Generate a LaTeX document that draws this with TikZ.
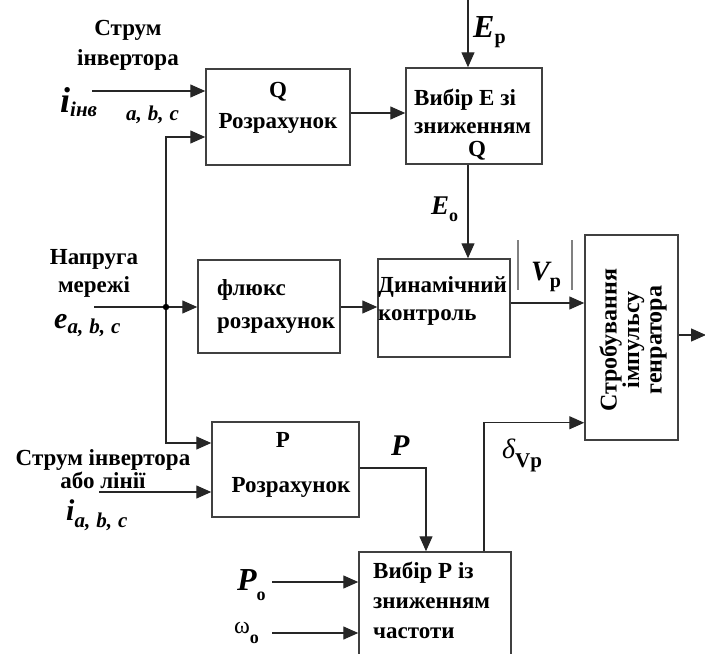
\documentclass[tikz,border=0pt]{standalone}
\usepackage{fontspec}
\setmainfont{Liberation Serif}
\usetikzlibrary{arrows.meta}
\newcommand{\abcsep}{,\hspace{6pt}}
\begin{document}
\begin{tikzpicture}[x=1pt,y=-1pt,
  box/.style={draw=black!75, line width=1.5pt, rectangle, inner sep=0pt},
  conn/.style={line width=1.4pt, draw=black!85, -{Triangle[length=15pt,width=13pt]}},
  plain/.style={line width=1.4pt, draw=black!85},
  bar/.style={line width=1.6pt, draw=black!50},
  txt/.style={inner sep=0pt, font=\fontsize{23}{#1}\selectfont\bfseries},
  lbl/.style={inner sep=0pt, anchor=base west},
  bi/.style={font=\fontsize{#1}{#1}\selectfont\bfseries\itshape}
]
\useasboundingbox (0,0) rectangle (705,654);
\clip (0,0) rectangle (705,654);

% boxes
\node[box, minimum width=144pt, minimum height=96pt] (Q) at (278,117) {};
\node[box, minimum width=136pt, minimum height=96pt] (E) at (474,116) {};
\node[box, minimum width=142pt, minimum height=93pt] (F) at (269,306.5) {};
\node[box, minimum width=132pt, minimum height=98pt] (D) at (444,308) {};
\node[box, minimum width=93pt, minimum height=205pt] (S) at (631.5,337.5) {};
\node[box, minimum width=147pt, minimum height=95pt] (P) at (285.5,469.5) {};
\node[box, minimum width=152pt, minimum height=116pt] (VP) at (435,610) {};

% box texts (base anchor = last line baseline)
\node[txt=31, align=center, anchor=base] (Qt) at (278,128) {Q\\Розрахунок};
\node[txt=28, align=left, anchor=base west] (Et) at (414,133) {Вибір Е зі\\зниженням};
\node[txt=28, anchor=base] (EtQ) at (477,156) {Q};
\node[txt=33, align=left, anchor=base west] (Ft) at (217,328) {флюкс\\розрахунок};
\node[txt=28, align=left, anchor=base west] (Dt) at (378,320) {Динамічний\\контроль};
\node[inner sep=0pt, font=\fontsize{24}{22.5}\selectfont\bfseries, align=center, rotate=90] (St) at (633,340) {Стробування\\імпульсу\\генратора};
\node[txt=28, anchor=base] (Pt1) at (283,447) {P};
\node[txt=28, anchor=base] (Pt2) at (291,492) {Розрахунок};
\node[txt=30, align=left, anchor=base west] (VPt) at (373,638) {Вибір Р із\\зниженням\\частоти};

% outer texts
\node[txt=30, align=center, anchor=base] (l1) at (128,65) {Струм\\інвертора};
\node[txt=28, align=center, anchor=base] (l2) at (94,292) {Напруга\\мережі};
\node[txt=21, align=center, anchor=base] (l3) at (103,488) {Струм інвертора\\або лінії};

% math-like labels
\node[lbl, bi=36] (iinv) at (60,112) {i\raisebox{-4pt}{\fontsize{21}{21}\selectfont інв}};
\node[lbl, bi=21] (abc1) at (126,120) {a\abcsep b\abcsep c};
\node[lbl, bi=30] (eabc) at (54,328) {e\raisebox{-5pt}{\fontsize{21}{21}\selectfont a\abcsep b\abcsep c}};
\node[lbl, bi=30] (iabc) at (66,520) {i\raisebox{-7pt}{\fontsize{21}{21}\selectfont a\abcsep b\abcsep c}};
\node[lbl, bi=32] (Eplbl) at (473,37) {E\raisebox{-6pt}{\fontsize{20}{20}\selectfont\upshape p}};
\node[lbl, bi=27] (Eolbl) at (431,214) {E\raisebox{-7pt}{\fontsize{18}{18}\selectfont\upshape o}};
\node[lbl, bi=28] (Vplbl) at (531,280) {V\raisebox{-7pt}{\fontsize{20}{20}\selectfont\upshape p}};
\node[lbl, bi=30] (Plbl) at (391,455) {P};
\node[lbl, font=\fontsize{28}{28}\selectfont\itshape] (dlbl) at (502,458) {δ\raisebox{-9pt}{\fontsize{21}{21}\selectfont\bfseries\upshape Vp}};
\node[lbl, bi=32] (Polbl) at (237,590) {P\raisebox{-10pt}{\fontsize{18}{18}\selectfont\upshape o}};
\node[lbl, font=\fontsize{24}{24}\selectfont] (wlbl) at (234,633) {ω\raisebox{-10pt}{\fontsize{18}{18}\selectfont\bfseries o}};

% coordinates
\coordinate (iin) at (92,91);
\coordinate (ein) at (94,307);
\coordinate (jn) at (166,307);
\coordinate (iain) at (99,492);
\coordinate (Ept) at (468,0);
\coordinate (out) at (706,335);
\coordinate (Poin) at (272,582);
\coordinate (win) at (272,633);

% connectors
\draw[conn] (iin) -- (iin -| Q.west);
\draw[plain] (ein) -- (jn);
\draw[conn] (jn) -- (jn -| F.west);
\draw[conn] (jn) |- ([yshift=-20pt]Q.west);
\draw[conn] (jn) |- ([yshift=26.5pt]P.west);
\fill[black] (jn) circle (3.2pt);
\draw[conn] ([yshift=4pt]Q.east) -- ([yshift=3pt]E.west);
\draw[conn] (Ept) -- (Ept |- E.north);
\draw[conn] (Ept |- E.south) -- (Ept |- D.north);
\draw[conn] (F.east |- jn) -- (D.west |- jn);
\draw[conn] ([yshift=5pt]D.east) -- ([yshift=5pt]D.east -| S.west);
\draw[conn] (S.east |- out) -- (out);
\draw[conn] (iain) -- (iain -| P.west);
\draw[conn] ([yshift=1.5pt]P.east) -| ([xshift=-9pt]VP.north);
\draw[conn] ([xshift=49pt]VP.north) |- ([yshift=18pt]S.south west);
\draw[conn] (Poin) -- (Poin -| VP.west);
\draw[conn] (win) -- (win -| VP.west);

% magnitude bars
\draw[bar] (518,240) -- (518,290);
\draw[bar] (572,240) -- (572,290);
\end{tikzpicture}
\end{document}
